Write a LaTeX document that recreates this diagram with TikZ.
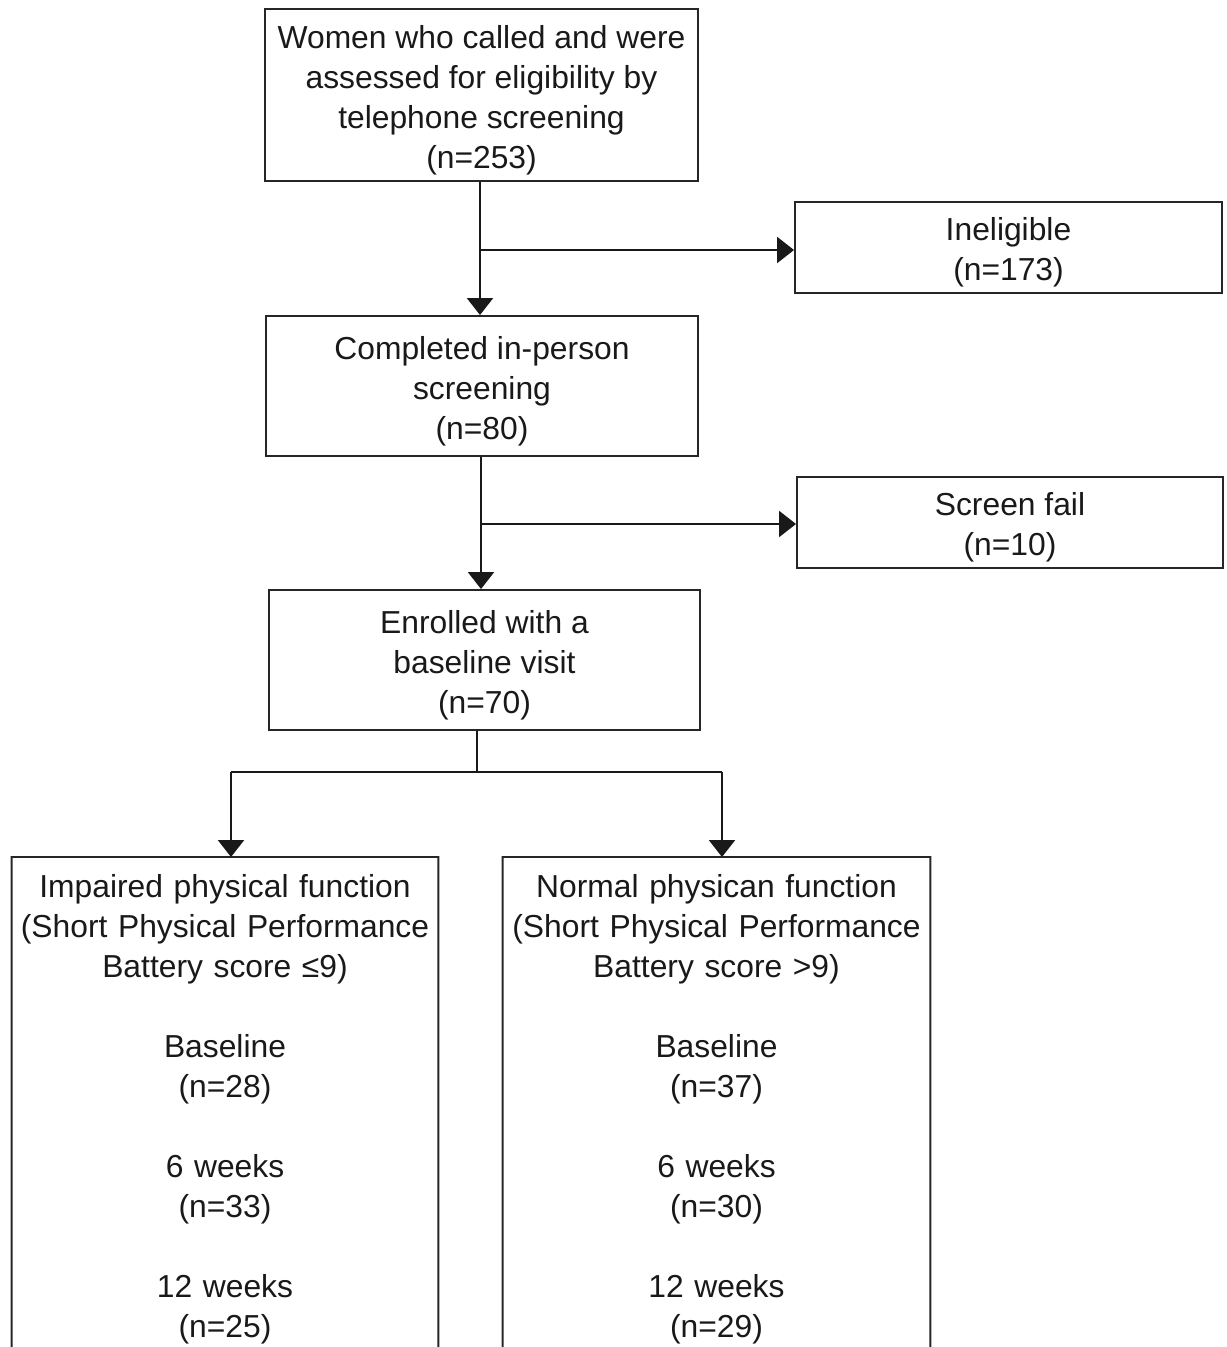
\documentclass[tikz,border=0pt]{standalone}
\usepackage{fontspec}
\setmainfont{Liberation Sans}
\usetikzlibrary{arrows.meta}
\newcommand{\topstrut}{\rule{0pt}{19pt}}
\newcommand{\btopstrut}{\rule{0pt}{16pt}}
\tikzset{
  box/.style={draw=black!85, line width=1.1pt, align=center, inner sep=0pt,
    font=\fontsize{18.1}{22.76}\selectfont, text=black!90},
  txt/.style={align=center, inner xsep=0pt, inner ysep=0.24cm,
    font=\fontsize{18.1}{22.76}\selectfont, text=black!90},
  arr/.style={line width=1.3pt, draw=black!90, -{Triangle[width=0.52cm,length=0.34cm]}},
  ln/.style={line width=1.3pt, draw=black!90},
}
\begin{document}
\begin{tikzpicture}[x=0.02cm,y=-0.02cm]
\useasboundingbox (0,0) rectangle (1227,1347);
\clip (0,0) rectangle (1227,1347);
\node[box, minimum width=433*0.02cm, minimum height=172*0.02cm] (b1) at (481.5,95)
  {\topstrut Women who called and were\\assessed for eligibility by\\telephone screening\\(n=253)};
\node[box, minimum width=427*0.02cm, minimum height=91*0.02cm] (inel) at (1008.5,247.5)
  {\topstrut Ineligible\\(n=173)};
\node[box, minimum width=432*0.02cm, minimum height=140*0.02cm] (b2) at (482,386)
  {\topstrut Completed in-person\\screening\\(n=80)};
\node[box, minimum width=426*0.02cm, minimum height=91*0.02cm] (sf) at (1010,522.5)
  {\topstrut Screen fail\\(n=10)};
\node[box, minimum width=431*0.02cm, minimum height=140*0.02cm] (b3) at (484.5,660)
  {\topstrut Enrolled with a\\baseline visit\\(n=70)};
\node[txt, text width=426*0.02cm, anchor=north] (left) at (225,857)
  {\btopstrut Impaired physical function\\(Short Physical Performance\\Battery score ≤9)\\[22.76pt]
   Baseline\\(n=28)\\[22.76pt]6 weeks\\(n=33)\\[22.76pt]12 weeks\\(n=25)};
\node[txt, text width=427*0.02cm, anchor=north] (right) at (716.5,857)
  {\btopstrut Normal physican function\\(Short Physical Performance\\Battery score >9)\\[22.76pt]
   Baseline\\(n=37)\\[22.76pt]6 weeks\\(n=30)\\[22.76pt]12 weeks\\(n=29)};
\draw[box] (left.north west) -- (left.north east) -- ++(0,600) -- ([yshift=-12cm]left.north west) -- cycle;
\draw[box] (right.north west) -- (right.north east) -- ++(0,600) -- ([yshift=-12cm]right.north west) -- cycle;
% connectors
\draw[arr] (b1.south -| 480,0) -- (b2.north -| 480,0);
\coordinate (j1) at (480,250);
\draw[arr] (j1) -- (j1 -| inel.west);
\draw[arr] (b2.south -| 481,0) -- (b3.north -| 481,0);
\coordinate (j2) at (481,524);
\draw[arr] (j2) -- (j2 -| sf.west);
\coordinate (j3) at (477,772);
\draw[ln] (b3.south -| j3) -- (j3);
\coordinate (la) at (231,772);
\coordinate (ra) at (722,772);
\draw[ln] (la) -- (ra);
\draw[arr] (la) -- (la |- left.north);
\draw[arr] (ra) -- (ra |- right.north);
\end{tikzpicture}
\end{document}
